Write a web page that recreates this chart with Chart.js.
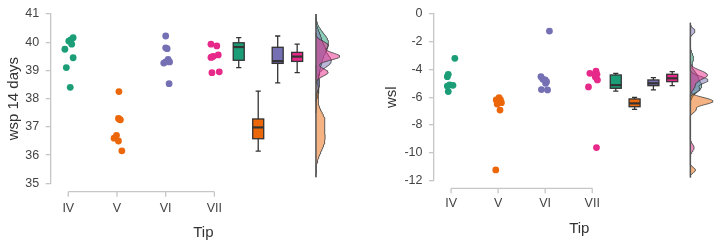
<!DOCTYPE html>
<html>
<head>
<meta charset="utf-8">
<script src="https://cdn.jsdelivr.net/npm/chart.js@4.4.1/dist/chart.umd.min.js"></script>
<style>
    html, body { margin: 0; padding: 0; background: #fff; }
    #wrap { position: relative; width: 728px; height: 246px; }
    .panel { position: absolute; top: 0; width: 364px; height: 246px; }
</style>
</head>
<body>
<div id="wrap">
    <div class="panel" style="left:0"><canvas id="wspChart" width="364" height="246"></canvas></div>
    <div class="panel" style="left:364px"><canvas id="wslChart" width="364" height="246"></canvas></div>
</div>
<script>
const tips = ["IV", "V", "VI", "VII"];
const tipColors = ["#1b9e77", "#ec670a", "#7570b3", "#e7298a"];

// wsp 14 days, one array per tip
const wspIV = [40.16, 40.08, 40.04, 39.93, 39.75, 39.45, 39.10, 38.40];
const wspV = [38.25, 37.30, 37.27, 37.25, 36.70, 36.60, 36.50, 36.15];
const wspVI = [40.22, 39.80, 39.77, 39.39, 39.30, 39.30, 39.26, 38.53];
const wspVII = [39.93, 39.87, 39.55, 39.50, 39.48, 39.46, 38.95, 38.92];
// box stats: [lower whisker, q1, median, q3, upper whisker]
const wspBoxIV = [39.10, 39.36, 39.83, 39.98, 40.16];
const wspBoxV = [36.14, 36.58, 36.98, 37.28, 38.27];
const wspBoxVI = [38.56, 39.25, 39.33, 39.82, 40.22];
const wspBoxVII = [38.92, 39.32, 39.49, 39.64, 39.93];
const wspTicks = [35, 36, 37, 38, 39, 40, 41];

// wsl
const wslIV = [-3.20, -4.35, -4.52, -5.12, -5.15, -5.20, -5.60];
const wslV = [-6.04, -6.20, -6.20, -6.37, -6.40, -6.50, -6.93, -11.25];
const wslVI = [-1.23, -4.52, -4.71, -4.76, -4.88, -5.00, -5.45, -5.48];
const wslVII = [-4.13, -4.28, -4.35, -4.45, -4.57, -4.76, -5.26, -9.64];
const wslBoxIV = [-5.56, -5.36, -5.13, -4.40, -4.28];
const wslBoxV = [-6.88, -6.69, -6.45, -6.13, -6.01];
const wslBoxVI = [-5.48, -5.17, -5.00, -4.76, -4.59];
const wslBoxVII = [-5.17, -4.88, -4.64, -4.35, -4.16];
const wslTicks = [-12, -10, -8, -6, -4, -2, 0];

// horizontal jitter of the dots (category widths), same order as the values
const wspJitter = [
    [0.10, 0.05, 0.01, 0.07, -0.07, 0.10, -0.04, 0.04],
    [0.04, 0.03, 0.05, 0.07, -0.01, -0.06, 0.03, 0.10],
    [0.00, 0.00, 0.03, 0.05, 0.00, 0.08, -0.04, 0.07],
    [-0.07, 0.05, 0.08, -0.02, -0.05, -0.07, 0.10, -0.05]
];
const wslJitter = [
    [0.08, -0.06, -0.08, -0.03, 0.04, -0.08, -0.06],
    [0.02, -0.04, 0.05, 0.00, 0.07, -0.02, 0.04, -0.05],
    [0.09, -0.09, -0.05, 0.00, 0.03, 0.01, -0.08, 0.05],
    [0.08, -0.05, 0.10, 0.06, 0.07, 0.11, -0.08, 0.09]
];

const BOX_X = [3.5, 3.9, 4.3, 4.7];  // where the boxes sit on the x scale
const DENS_X = 5.085;                 // baseline of the half-densities
const AXIS = "#c6c6c6";
const FONT = "'Liberation Sans', Arial, sans-serif";

function alpha(hex, a) {
    const n = parseInt(hex.slice(1), 16);
    return `rgba(${n >> 16}, ${(n >> 8) & 255}, ${n & 255}, ${a})`;
}

function quantile(sorted, p) {
    const h = (sorted.length - 1) * p;
    const lo = Math.floor(h);
    const hi = Math.min(lo + 1, sorted.length - 1);
    return sorted[lo] + (h - lo) * (sorted[hi] - sorted[lo]);
}

// Silverman's rule, like R's bw.nrd0
function bandwidth(values) {
    const n = values.length;
    const s = [...values].sort((a, b) => a - b);
    const mean = values.reduce((a, b) => a + b, 0) / n;
    const sd = Math.sqrt(values.reduce((a, b) => a + (b - mean) ** 2, 0) / (n - 1));
    const iqr = quantile(s, 0.75) - quantile(s, 0.25);
    const lo = Math.min(sd, iqr / 1.34) || sd || 1;
    return 0.9 * lo * Math.pow(n, -0.2);
}

function kde(values, steps = 160) {
    const bw = bandwidth(values);
    const lo = Math.min(...values) - 3 * bw;
    const hi = Math.max(...values) + 3 * bw;
    const out = [];
    for (let i = 0; i < steps; i++) {
        const y = lo + (hi - lo) * i / (steps - 1);
        let d = 0;
        values.forEach((v) => { const z = (y - v) / bw; d += Math.exp(-0.5 * z * z); });
        out.push({ y: y, d: d / (values.length * bw * Math.sqrt(2 * Math.PI)) });
    }
    return out;
}

function decorPlugin(boxes, axisGap) {
    return {
        id: "decor",
        afterDatasetsDraw(chart) {
            const { ctx, chartArea, scales: { x, y } } = chart;
            ctx.save();

            // x axis line only spans the categories, a little below the plot
            const ay = chartArea.bottom + axisGap;
            ctx.strokeStyle = AXIS;
            ctx.lineWidth = 1.3;
            ctx.beginPath();
            ctx.moveTo(x.getPixelForValue(0), ay);
            ctx.lineTo(x.getPixelForValue(tips.length - 1), ay);
            tips.forEach((t, i) => {
                const px = x.getPixelForValue(i);
                ctx.moveTo(px, ay);
                ctx.lineTo(px, ay + 5);
            });
            ctx.stroke();

            // box plots
            boxes.forEach((b, i) => {
                const cx = x.getPixelForValue(BOX_X[i]);
                const [lw, q1, med, q3, uw] = b.map((v) => y.getPixelForValue(v));
                ctx.strokeStyle = "#333";
                ctx.lineWidth = 1.3;
                ctx.beginPath();
                ctx.moveTo(cx, uw); ctx.lineTo(cx, q3);
                ctx.moveTo(cx, q1); ctx.lineTo(cx, lw);
                ctx.moveTo(cx - 2.6, uw); ctx.lineTo(cx + 2.6, uw);
                ctx.moveTo(cx - 2.6, lw); ctx.lineTo(cx + 2.6, lw);
                ctx.stroke();

                ctx.fillStyle = tipColors[i];
                ctx.fillRect(cx - 5.5, q3, 11, q1 - q3);
                ctx.strokeRect(cx - 5.5, q3, 11, q1 - q3);

                ctx.lineWidth = 2.2;
                ctx.beginPath();
                ctx.moveTo(cx - 5.5, med); ctx.lineTo(cx + 5.5, med);
                ctx.stroke();
            });
            ctx.restore();
        }
    };
}

function makePanel(canvasId, groups, boxes, jitter, ticks, yTitle, lay) {
    const datasets = [];

    // dots
    groups.forEach((values, i) => {
        datasets.push({
            type: "scatter",
            data: values.map((v, k) => ({ x: i + jitter[i][k], y: v })),
            backgroundColor: tipColors[i],
            borderWidth: 0,
            pointRadius: 3.4,
            pointHoverRadius: 3.4,
            order: 10
        });
    });

    // half densities, one shared width scale per panel
    const curves = groups.map((values) => kde(values));
    const peak = Math.max(...curves.map((c) => Math.max(...c.map((p) => p.d))));
    const k = lay.densWidth / peak;
    let yLo = Infinity, yHi = -Infinity;
    curves.forEach((c, i) => {
        yLo = Math.min(yLo, c[0].y);
        yHi = Math.max(yHi, c[c.length - 1].y);
        const pts = [{ x: DENS_X, y: c[0].y }]
            .concat(c.map((p) => ({ x: DENS_X + p.d * k, y: p.y })))
            .concat([{ x: DENS_X, y: c[c.length - 1].y }]);
        datasets.push({
            type: "line",
            data: pts,
            borderColor: "#3a3a3a",
            borderWidth: 0.8,
            backgroundColor: alpha(tipColors[i], 0.5),
            fill: "shape",
            pointRadius: 0,
            tension: 0,
            order: 4 - i
        });
    });
    datasets.push({
        type: "line",
        data: [{ x: DENS_X, y: yLo }, { x: DENS_X, y: yHi }],
        borderColor: "#555",
        borderWidth: 1.5,
        pointRadius: 0,
        fill: false,
        order: 0
    });

    return new Chart(document.getElementById(canvasId), {
        type: "scatter",
        data: { datasets: datasets },
        options: {
            responsive: false,
            animation: false,
            layout: { padding: lay.padding },
            plugins: {
                legend: { display: false },
                tooltip: { enabled: false }
            },
            scales: {
                x: {
                    type: "linear",
                    min: lay.xMin,
                    max: lay.xMax,
                    afterBuildTicks: (s) => { s.ticks = tips.map((t, i) => ({ value: i })); },
                    afterFit: (s) => { s.height = lay.xHeight; },
                    grid: { display: false, drawTicks: false },
                    border: { display: false },
                    ticks: {
                        autoSkip: false,
                        padding: lay.labelPad,
                        color: "#444",
                        font: { family: FONT, size: 12.5 },
                        callback: (v) => tips[v]
                    },
                    title: {
                        display: true,
                        text: "Tip",
                        color: "#333",
                        padding: { top: 4, bottom: 4 },
                        font: { family: FONT, size: 15 }
                    }
                },
                y: {
                    min: ticks[0],
                    max: ticks[ticks.length - 1],
                    afterBuildTicks: (s) => { s.ticks = ticks.map((v) => ({ value: v })); },
                    afterFit: (s) => { s.width = lay.yWidth; },
                    grid: { drawOnChartArea: false, tickLength: 5, color: AXIS, lineWidth: 1.3 },
                    border: { display: true, color: AXIS, width: 1.3 },
                    ticks: {
                        padding: 6.5,
                        color: "#444",
                        font: { family: FONT, size: 12.5 }
                    },
                    title: {
                        display: true,
                        text: yTitle,
                        color: "#333",
                        padding: { top: 5, bottom: 0 },
                        font: { family: FONT, size: 15 }
                    }
                }
            }
        },
        plugins: [decorPlugin(boxes, lay.axisGap)]
    });
}

document.addEventListener("DOMContentLoaded", function () {
    makePanel("wspChart",
        [wspIV, wspV, wspVI, wspVII],
        [wspBoxIV, wspBoxV, wspBoxVI, wspBoxVII],
        wspJitter, wspTicks, "wsp 14 days",
        { padding: { left: 0, top: 14, right: 8, bottom: 0 }, yWidth: 50.7, xHeight: 62.7,
          xMin: -0.361, xMax: 5.908, labelPad: 18.2, axisGap: 8.4, densWidth: 0.49 });

    makePanel("wslChart",
        [wslIV, wslV, wslVI, wslVII],
        [wslBoxIV, wslBoxV, wslBoxVI, wslBoxVII],
        wslJitter, wslTicks, "wsl",
        { padding: { left: 14, top: 14, right: 0, bottom: 4 }, yWidth: 56, xHeight: 61.7,
          xMin: -0.363, xMax: 5.813, labelPad: 16.2, axisGap: 8, densWidth: 0.48 });
});
</script>
</body>
</html>
